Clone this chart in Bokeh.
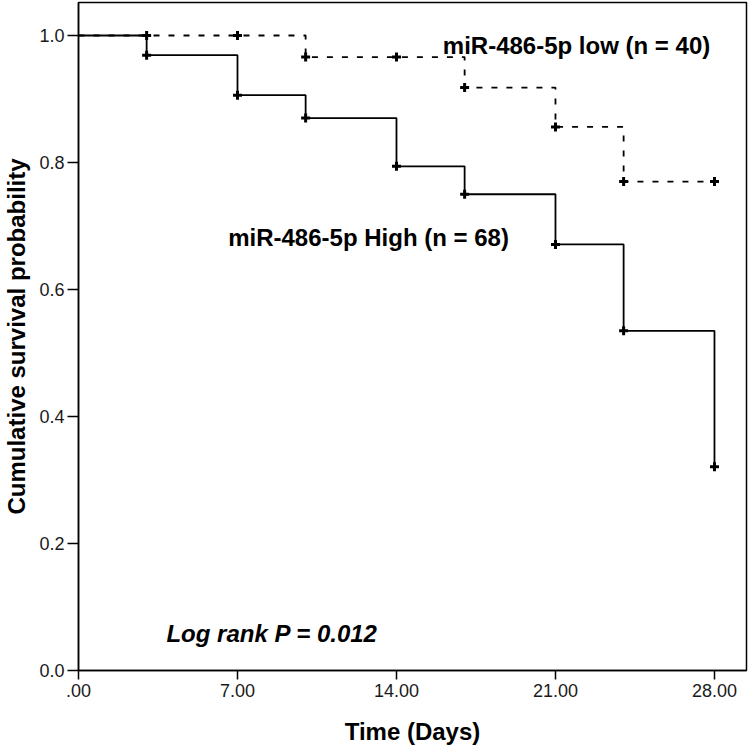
from bokeh.plotting import figure
from bokeh.models import Range1d, FixedTicker, Label
from bokeh.embed import file_html
from bokeh.resources import INLINE

# ---- data ----
high_times = [0, 3, 7, 10, 14, 17, 21, 24, 28]
high_surv = [1.0, 0.969, 0.906, 0.870, 0.794, 0.750, 0.671, 0.535, 0.321]
high_mark_times = [3, 7, 10, 14, 17, 21, 24, 28]
high_mark_surv = [0.969, 0.906, 0.870, 0.794, 0.750, 0.671, 0.535, 0.321]

low_times = [0, 10, 17, 21, 24, 28]
low_surv = [1.0, 0.966, 0.918, 0.856, 0.770, 0.770]
low_mark_times = [3, 7, 10, 14, 17, 21, 24, 28]
low_mark_surv = [1.0, 1.0, 0.966, 0.966, 0.918, 0.856, 0.770, 0.770]

x_ticks = [0, 7, 14, 21, 28]
x_tick_labels = {0: ".00", 7: "7.00", 14: "14.00", 21: "21.00", 28: "28.00"}
y_ticks = [0.0, 0.2, 0.4, 0.6, 0.8, 1.0]
y_tick_labels = {0.0: "0.0", 0.2: "0.2", 0.4: "0.4", 0.6: "0.6", 0.8: "0.8", 1.0: "1.0"}

x_title = "Time (Days)"
y_title = "Cumulative survival probability"
label_low = "miR-486-5p low (n = 40)"
label_high = "miR-486-5p High (n = 68)"
label_p = "Log rank P = 0.012"

FONT = "Liberation Sans"

p = figure(width=748, height=747, output_backend="svg", toolbar_location=None,
           x_range=Range1d(0, 29.41), y_range=Range1d(0, 1.052),
           min_border_left=77, min_border_right=2, min_border_top=2, min_border_bottom=77)

p.background_fill_color = "white"
p.border_fill_color = "white"
p.outline_line_color = "black"
p.outline_line_width = 1.5
p.xgrid.visible = False
p.ygrid.visible = False

# axes
p.xaxis.ticker = FixedTicker(ticks=x_ticks)
p.xaxis.major_label_overrides = x_tick_labels
p.yaxis.ticker = FixedTicker(ticks=y_ticks)
p.yaxis.major_label_overrides = y_tick_labels
for ax in (p.xaxis, p.yaxis):
    ax.axis_line_color = "black"
    ax.axis_line_width = 1.5
    ax.major_tick_line_color = "black"
    ax.major_tick_line_width = 1.5
    ax.major_tick_in = 0
    ax.minor_tick_line_color = None
    ax.major_label_text_font = FONT
    ax.major_label_text_font_size = "18px"
    ax.major_label_text_color = "#1a1a1a"
    ax.axis_label_text_font = FONT
    ax.axis_label_text_font_style = "bold"
    ax.axis_label_text_font_size = "24px"
    ax.axis_label_text_color = "black"
p.xaxis.major_tick_out = 9
p.yaxis.major_tick_out = 11
p.xaxis.major_label_standoff = 4
p.yaxis.major_label_standoff = 3
p.xaxis.axis_label = x_title
p.xaxis.axis_label_standoff = 18
p.yaxis.axis_label = y_title
p.yaxis.axis_label_text_line_height = 1.0
p.yaxis.axis_label_standoff = 6

# curves
p.step(high_times, high_surv, mode="after", line_color="black", line_width=1.8)
p.step(low_times, low_surv, mode="after", line_color="black", line_width=1.8, line_dash="6 9")

p.scatter(high_mark_times, high_mark_surv, marker="cross", size=9, line_color="black", line_width=3)
p.scatter(low_mark_times, low_mark_surv, marker="cross", size=9, line_color="black", line_width=3)

# annotations
p.add_layout(Label(x=16.04, y=0.984, text=label_low, text_font=FONT, text_font_style="bold",
                   text_font_size="24px", text_color="black", text_baseline="alphabetic"))
p.add_layout(Label(x=6.59, y=0.682, text=label_high, text_font=FONT, text_font_style="bold",
                   text_font_size="24px", text_color="black", text_baseline="alphabetic"))
p.add_layout(Label(x=3.87, y=0.058, text=label_p, text_font=FONT, text_font_style="bold italic",
                   text_font_size="24px", text_color="black", text_baseline="alphabetic"))

open("out.html", "w").write(file_html(p, INLINE))
